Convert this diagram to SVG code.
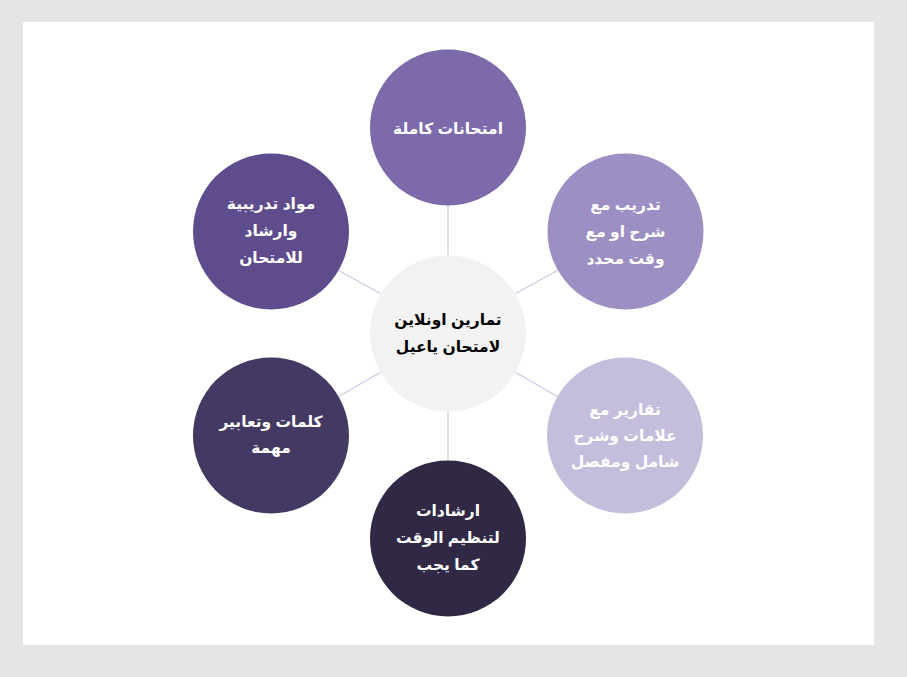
<svg xmlns="http://www.w3.org/2000/svg" width="907" height="677" viewBox="0 0 907 677">
<style>
.bg{fill:#e5e5e5}
.panel{fill:#ffffff}
.conn line{stroke:#cdc8e3;stroke-width:1.2}
.t{font-family:"Liberation Sans","DejaVu Sans",sans-serif;font-weight:bold;font-size:15.5px;fill:#ffffff;text-anchor:middle;dominant-baseline:central}
.tc{fill:#000000}
</style>
<rect class="bg" x="0" y="0" width="907" height="677"/>
<rect class="panel" x="23" y="22" width="851" height="623"/>
<g id="connectors" class="conn">
<line x1="448" y1="205" x2="448" y2="256"/>
<line x1="515" y1="294" x2="558" y2="270"/>
<line x1="515" y1="372" x2="558" y2="397"/>
<line x1="448" y1="411" x2="448" y2="460"/>
<line x1="381" y1="372" x2="338" y2="397"/>
<line x1="381" y1="294" x2="338" y2="270"/>
</g>
<g id="node-center">
<circle cx="448" cy="333.5" r="78" fill="#f2f2f2"/>
<text class="t tc" x="448" y="319">تمارين اونلاين</text>
<text class="t tc" x="448" y="346">لامتحان ياعيل</text>
</g>
<g id="node-top">
<circle cx="448" cy="127.5" r="78" fill="#7c6aab"/>
<text class="t" x="448" y="128">امتحانات كاملة</text>
</g>
<g id="node-top-right">
<circle cx="625.5" cy="231.5" r="78" fill="#9d8fc3"/>
<text class="t" x="625.5" y="204">تدريب مع</text>
<text class="t" x="625.5" y="231">شرح او مع</text>
<text class="t" x="625.5" y="258">وقت محدد</text>
</g>
<g id="node-bottom-right">
<circle cx="625" cy="435.5" r="78" fill="#c5bddc"/>
<text class="t" x="625" y="409">تقارير مع</text>
<text class="t" x="625" y="435">علامات وشرح</text>
<text class="t" x="625" y="461">شامل ومفصل</text>
</g>
<g id="node-bottom">
<circle cx="448" cy="538.5" r="78" fill="#302844"/>
<text class="t" x="448" y="510">ارشادات</text>
<text class="t" x="448" y="537">لتنظيم الوقت</text>
<text class="t" x="448" y="564">كما يجب</text>
</g>
<g id="node-bottom-left">
<circle cx="271" cy="435.5" r="78" fill="#443963"/>
<text class="t" x="271" y="421">كلمات وتعابير</text>
<text class="t" x="271" y="447">مهمة</text>
</g>
<g id="node-top-left">
<circle cx="271" cy="231.5" r="78" fill="#5f4c8c"/>
<text class="t" x="271" y="203">مواد تدريبية</text>
<text class="t" x="271" y="230">وارشاد</text>
<text class="t" x="271" y="257">للامتحان</text>
</g>
</svg>
